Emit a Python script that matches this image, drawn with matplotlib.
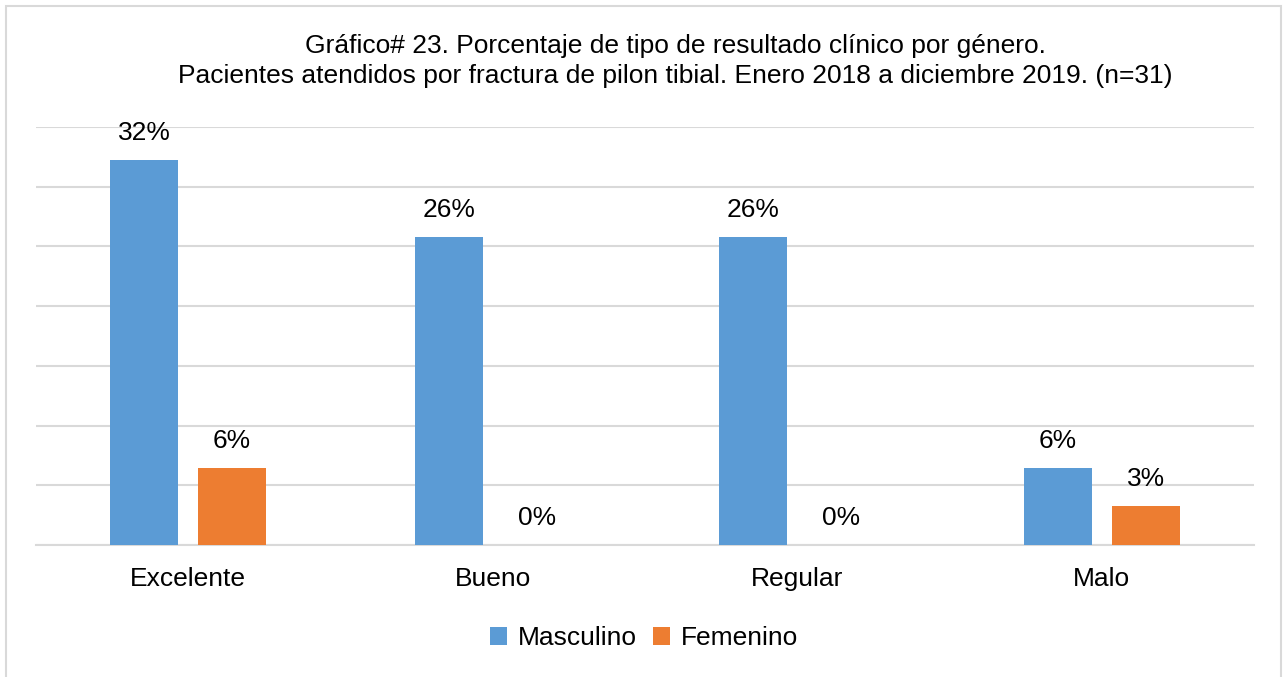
import numpy as np
from matplotlib import pyplot as plt
from matplotlib.patches import Rectangle

plt.rcParams['font.family'] = ['Liberation Sans', 'DejaVu Sans']

categories = ['Excelente', 'Bueno', 'Regular', 'Malo']
masculino = [32.26, 25.81, 25.81, 6.45]
femenino = [6.45, 0.0, 0.0, 3.23]
masc_labels = ['32%', '26%', '26%', '6%']
fem_labels = ['6%', '0%', '0%', '3%']

blue = '#5B9BD5'
orange = '#ED7D31'
grid_col = '#D9D9D9'
fs = 19

fig = plt.figure(figsize=(12.86, 6.77), dpi=100)
# outer chart border
fig.patches.append(Rectangle((6 / 1286, -0.01), 1275 / 1286, 1 - 6 / 677 + 0.01,
                             transform=fig.transFigure, fill=False,
                             edgecolor=grid_col, lw=1.5))

ax = fig.add_axes([36 / 1286, 1 - 545 / 677, 1218 / 1286, (545 - 127) / 677])

x = np.arange(len(categories))
w = 0.223
off = 0.144
b1 = ax.bar(x - off, masculino, w, color=blue, label='Masculino', zorder=3)
b2 = ax.bar(x + off, femenino, w, color=orange, label='Femenino', zorder=3)

for bars, labs in ((b1, masc_labels), (b2, fem_labels)):
    for rect, lab in zip(bars, labs):
        ax.annotate(lab, (rect.get_x() + rect.get_width() / 2, rect.get_height()),
                    xytext=(0, 14.5), textcoords='offset points',
                    ha='center', va='baseline', fontsize=fs)

ax.set_xlim(-0.5, len(categories) - 0.5)
ax.set_ylim(0, 35)
ax.set_yticks(np.arange(0, 36, 5))
ax.yaxis.grid(True, color=grid_col, lw=1.5, zorder=0)
ax.tick_params(axis='y', left=False, labelleft=False)
ax.tick_params(axis='x', bottom=False, labelsize=fs, pad=12)
ax.set_xticks(x)
ax.set_xticklabels(categories)
for s in ['top', 'right', 'left']:
    ax.spines[s].set_visible(False)
ax.spines['bottom'].set_color(grid_col)
ax.spines['bottom'].set_linewidth(1.5)

fig.text(675 / 1286, 1 - 61 / 677,
         'Gráfico# 23. Porcentaje de tipo de resultado clínico por género.\n'
         'Pacientes atendidos por fractura de pilon tibial. Enero 2018 a diciembre 2019. (n=31)',
         ha='center', va='center', fontsize=fs, linespacing=1.33)

fig.legend(handles=[b1, b2], loc='center', bbox_to_anchor=(644 / 1286, 1 - 638 / 677),
           ncol=2, frameon=False, fontsize=fs, handlelength=0.65, handleheight=0.65,
           handletextpad=0.4, columnspacing=0.6)

plt.savefig('out.png')
